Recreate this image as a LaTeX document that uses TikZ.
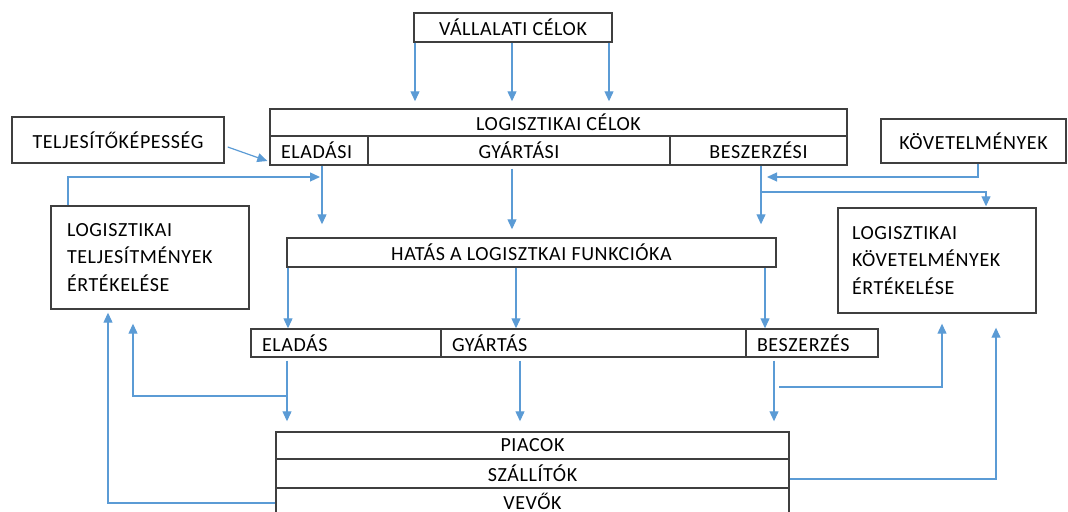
\documentclass[tikz,border=0pt]{standalone}
\usepackage{fontspec}
\setmainfont{Carlito}[LetterSpace=3]
\usetikzlibrary{arrows.meta, calc}
\definecolor{boxline}{HTML}{3F3F3F}
\definecolor{flowblue}{HTML}{5B9BD5}

\begin{document}
\begin{tikzpicture}[x=0.5pt, y=-0.5pt, >={Triangle[length=5pt,width=4.5pt]},
	box/.style={draw=boxline, line width=.7pt, inner sep=0pt, minimum height=14.5pt,
		font=\fontsize{10}{13.8}\selectfont},
	lbox/.style={box, align=left, inner xsep=5.5pt, text width=#1},
	arr/.style={->, draw=flowblue, line width=.6pt}]
	\useasboundingbox (0,0) rectangle (1068,512);
%	\draw[gray!30, step=50] (0,0) grid (1068,512);
	% felső sor
	\node[box, minimum width=99pt] (vcel) at (513,27.5) {VÁLLALATI CÉLOK};
	\node[box, minimum width=288.5pt, minimum height=13.5pt] (lcel) at (558.5,122.5) {LOGISZTIKAI CÉLOK};
	\node[lbox=38pt] (eladasi) at (319,150.5) {ELADÁSI};
	\node[box, minimum width=151pt] (gyartasi) at (519,150.5) {GYÁRTÁSI};
	\node[box, minimum width=88.5pt] (beszerzesi) at (758.5,150.5) {BESZERZÉSI};
	\node[box, minimum width=106pt, minimum height=23pt] (telj) at (118,140) {TELJESÍTŐKÉPESSÉG};
	\node[box, minimum width=92.5pt, minimum height=22pt] (kov) at (973.5,141) {KÖVETELMÉNYEK};
	
	% értékelések
	\node[box, align=left, inner xsep=8pt, text width=83pt, minimum height=51.5pt] (ltert) 
	at (150,257.5) {LOGISZTIKAI\\TELJESÍTMÉNYEK\\ÉRTÉKELÉSE};
	\node[box, align=left, inner xsep=7pt, text width=85pt, minimum height=52.5pt] (lkert) 
	at (937,260.5) {LOGISZTIKAI\\KÖVETELMÉNYEK\\ÉRTÉKELÉSE};
	
	\node[box, minimum width=244.5pt] (hatas) at (531.5,252.5) {HATÁS A LOGISZTKAI FUNKCIÓKA};
	
	% funkciók
	\node[lbox=84pt, minimum height=14pt] (eladas) at (346,343) {ELADÁS};
	\node[lbox=141.5pt, minimum height=14pt] (gyartas) at (593.5,343) {GYÁRTÁS};
	\node[lbox=55pt, minimum height=14pt] (beszerzes) at (812,343) {BESZERZÉS};
	
	% piacok
	\node[box, minimum width=256.5pt, minimum height=13.5pt] (piacok) at (532.5,445.5) {PIACOK};
	\node[box, minimum width=256.5pt] (szallitok) at (532.5,473.5) {SZÁLLÍTÓK};
	\node[box, minimum width=256.5pt, minimum height=13.5pt] (vevok) at (532.5,501.5) {VEVŐK};
	
	% nyilak
	\foreach \x in {415,512,609}
	\draw[arr, shorten >=3.5pt] (\x,0 |- vcel.south) -- (\x,0 |- lcel.north);
	
	\draw[arr, shorten >=6.5pt] (322,0 |- eladasi.south) -- (322,0 |- hatas.north);
	\draw[arr, shorten <=1.5pt, shorten >=4pt] (512,0 |- gyartasi.south) -- (512,0 |- hatas.north);
	\draw[arr, shorten >=6.5pt] (761,0 |- beszerzesi.south) -- (761,0 |- hatas.north);
	
	\draw[arr] ([shift={(3,7)}]telj.east) -- ([shift={(-2,10.5)}]eladasi.west);
	
	\coordinate (kvtip) at (767,177);
	\draw[arr] (978,0 |- kov.south) |- (kvtip);
	
	\coordinate (lttip) at (320,177);
	\draw[arr] (68,0 |- ltert.north) |- (lttip);
	
	\coordinate (bsz) at (761,192);
	\draw[arr, shorten >=.5pt] (bsz) -| (986,0 |- lkert.north);
	
	\foreach \x in {288,516,765}
	\draw[arr] (\x,0 |- hatas.south) -- (\x,0 |- eladas.north);
	
	\foreach \x in {287,520,774}
	\draw[arr, shorten <=1.5pt, shorten >=5pt] (\x,0 |- eladas.south) -- (\x,0 |- piacok.north);
	
	% visszacsatolás
	\coordinate (elv) at (287,396);
	\draw[arr, shorten >=7pt] (elv) -| (133,0 |- ltert.south);
	\draw[arr, shorten >=1.5pt] (vevok.west |- 0,503) -| (108,0 |- ltert.south);
	\coordinate (bsv) at (779,387);
	\draw[arr, shorten >=5pt] (bsv) -| (942,0 |- lkert.south);
	\draw[arr, shorten >=7pt] (szallitok.east |- 0,479) -| (996,0 |- lkert.south);
\end{tikzpicture}
\end{document}
